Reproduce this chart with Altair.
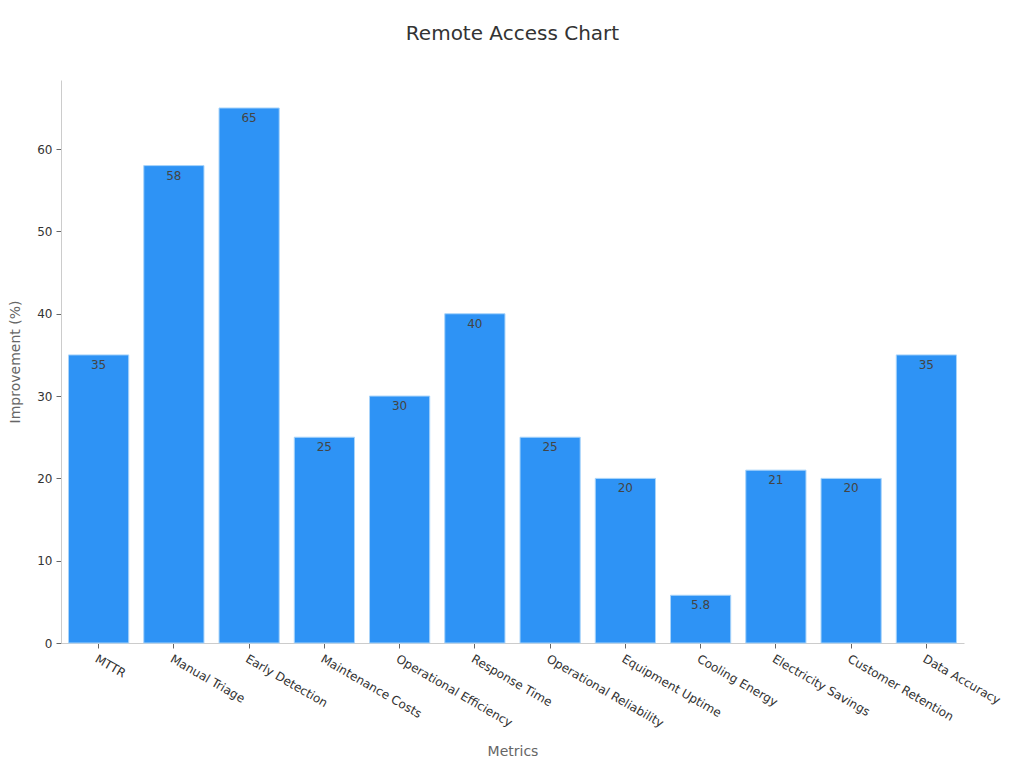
import altair as alt
import pandas as pd

metrics = ["MTTR", "Manual Triage", "Early Detection", "Maintenance Costs",
           "Operational Efficiency", "Response Time", "Operational Reliability",
           "Equipment Uptime", "Cooling Energy", "Electricity Savings",
           "Customer Retention", "Data Accuracy"]
improvement = [35, 58, 65, 25, 30, 40, 25, 20, 5.8, 21, 20, 35]

df = pd.DataFrame({"Metrics": metrics, "Improvement": improvement})

FONT = "DejaVu Sans"

base = alt.Chart(df).encode(
    x=alt.X("Metrics:N", sort=metrics, title="Metrics",
            scale=alt.Scale(paddingInner=0.2, paddingOuter=0.1),
            axis=alt.Axis(labelAngle=30, labelAlign="left", labelBaseline="top",
                          labelFontSize=12, labelColor="#333333", labelFont=FONT,
                          titleFont=FONT, titleFontSize=14, titleFontWeight="normal",
                          titleColor="#666666", titlePadding=16,
                          domainColor="#cccccc", tickColor="#666666", tickSize=5,
                          labelPadding=5)),
    y=alt.Y("Improvement:Q", title="Improvement (%)",
            scale=alt.Scale(domain=[0, 68.4], nice=False),
            axis=alt.Axis(values=[0, 10, 20, 30, 40, 50, 60], grid=False,
                          labelFontSize=12, labelColor="#333333", labelFont=FONT,
                          titleFont=FONT, titleFontSize=14, titleFontWeight="normal",
                          titleColor="#666666", titlePadding=14,
                          domainColor="#cccccc", tickColor="#666666", tickSize=5,
                          labelPadding=4)),
)

bars = base.mark_bar(color="#2E93F5", stroke="#A8D4FA", strokeWidth=1)
labels = base.mark_text(baseline="middle", dy=10, fontSize=12, color="#444444",
                        font=FONT).encode(text=alt.Text("Improvement:Q"))

chart = (bars + labels).properties(
    width=903, height=563,
    title=alt.TitleParams("Remote Access Chart", fontSize=20, font=FONT,
                          fontWeight="normal", color="#333333", anchor="middle",
                          offset=36),
    autosize=alt.AutoSizeParams(type="none"),
    padding={"left": 53, "top": 72, "right": 52, "bottom": 120},
).configure_view(stroke=None)

chart.save("out.html", embed_options={"renderer": "svg", "actions": False})
